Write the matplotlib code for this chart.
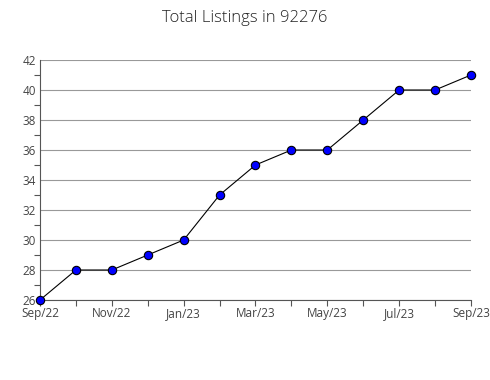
import matplotlib
matplotlib.use('Agg')
import matplotlib.pyplot as plt
from matplotlib.ticker import MultipleLocator

months = ['Sep/22', 'Oct/22', 'Nov/22', 'Dec/22', 'Jan/23', 'Feb/23', 'Mar/23',
          'Apr/23', 'May/23', 'Jun/23', 'Jul/23', 'Aug/23', 'Sep/23']
listings = [26, 28, 28, 29, 30, 33, 35, 36, 36, 38, 40, 40, 41]

plt.rcParams['font.family'] = ['Open Sans', 'DejaVu Sans']

fig = plt.figure(figsize=(4.9, 3.8), dpi=100)
ax = fig.add_axes([0.0816, 0.2105, 0.8796, 0.6316])

x = list(range(len(months)))
ax.plot(x, listings, color='black', lw=0.8, marker='o', markersize=6,
        markerfacecolor='#0000ff', markeredgecolor='black', markeredgewidth=0.8,
        zorder=3, clip_on=False)

ax.set_xlim(0, len(months) - 1)
ax.set_ylim(26, 42)
ax.set_xticks(x)
ax.set_xticklabels([m if i % 2 == 0 else '' for i, m in enumerate(months)])
ax.yaxis.set_major_locator(MultipleLocator(2))
ax.yaxis.set_minor_locator(MultipleLocator(1))

ax.grid(axis='y', which='major', color='#999999', lw=0.8)
ax.set_axisbelow(True)
for s in ['top', 'right']:
    ax.spines[s].set_visible(False)
for s in ['left', 'bottom']:
    ax.spines[s].set_color('#555555')
    ax.spines[s].set_linewidth(0.8)

ax.tick_params(axis='y', which='major', length=0, pad=3, labelsize=8.5, labelcolor='#444444')
ax.tick_params(axis='y', which='minor', length=4, color='#555555', width=0.8)
ax.tick_params(axis='x', which='major', length=4, color='#555555', width=0.8,
               pad=1, labelsize=8.5, labelcolor='#444444')

fig.suptitle('Total Listings in 92276', y=0.975, fontsize=12, color='#222222', fontweight='light')

fig.savefig('out.png')
